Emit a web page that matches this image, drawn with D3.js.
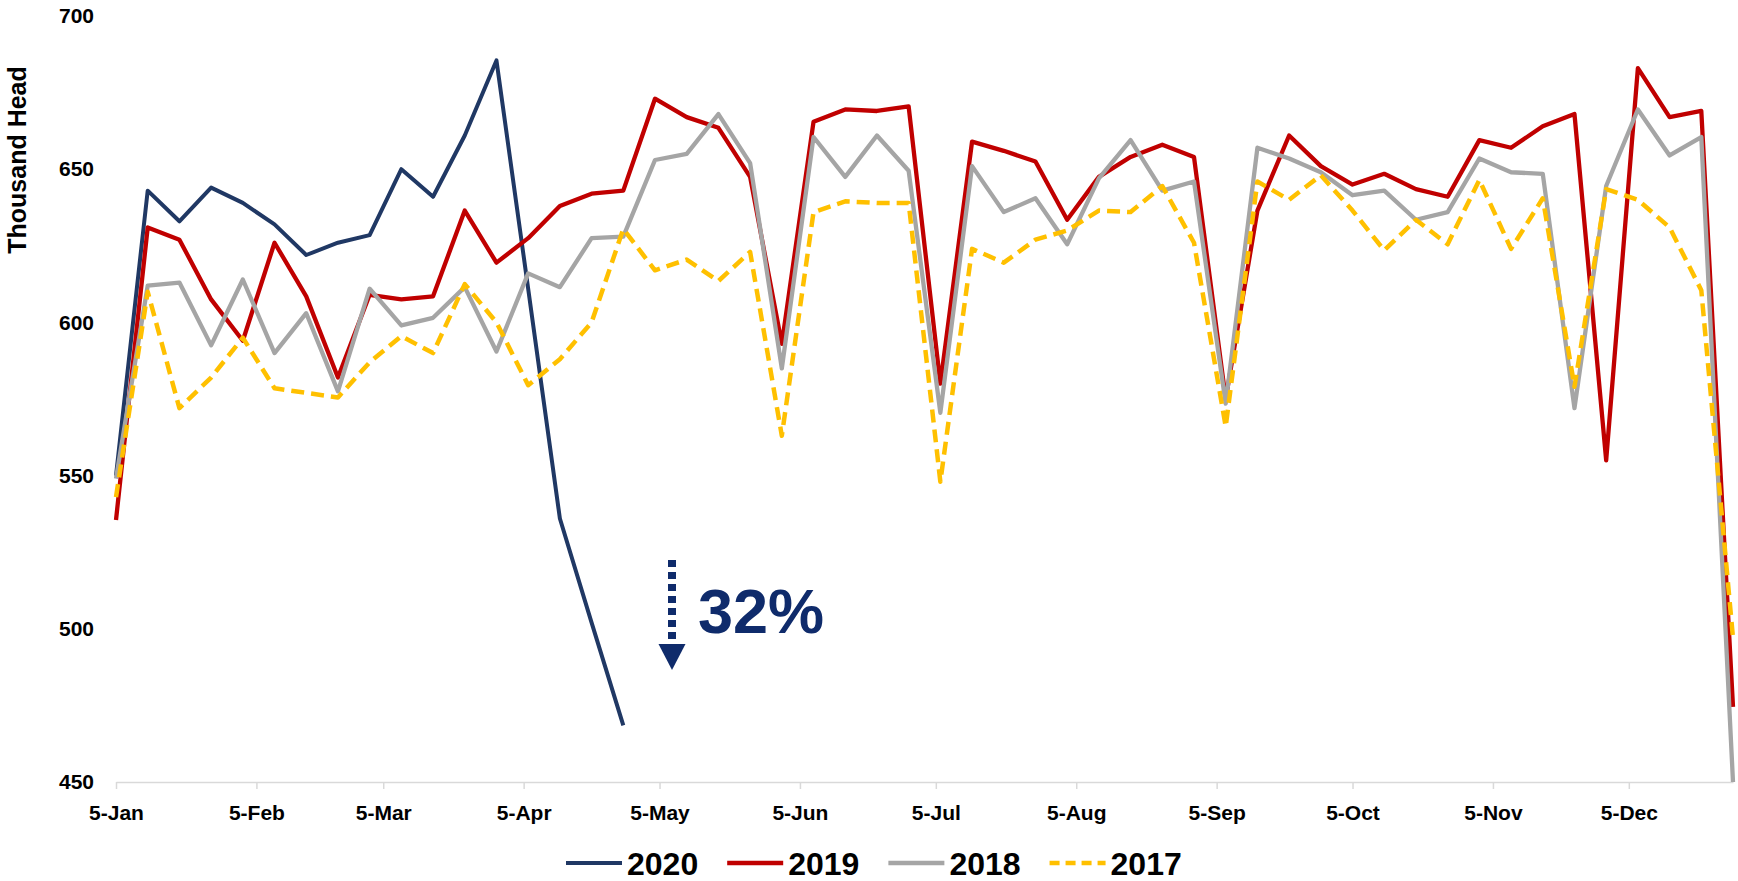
<!DOCTYPE html>
<html>
<head>
<meta charset="utf-8">
<script src="https://cdn.jsdelivr.net/npm/d3@7"></script>
<style>
  html, body { margin: 0; padding: 0; background: #fff; }
  svg text { font-family: "Liberation Sans", Arial, sans-serif; }
</style>
</head>
<body>
<svg id="chart" width="1738" height="881"></svg>
<script>
// weekly slaughter, thousand head (week ending dates from 5-Jan)
const weekCount = 52;
const firstWeek = new Date(2019, 0, 5);

const v2020 = [550, 643, 633, 644, 639, 632, 622, 626, 628.5, 650, 641, 661, 685.5, 611, 536, 502, 468.5];

const v2019 = [535.5, 631, 627, 607.5, 594, 626, 608.5, 582, 609, 607.5, 608.5, 636.5, 619.5, 627.5, 638, 642,
  643, 673, 667, 663.5, 647.5, 593, 665.5, 669.5, 669, 670.5, 580, 659, 656, 652.5, 633.5, 647.5,
  654, 658, 654, 575, 636.5, 661, 651, 645, 648.5, 643.5, 641, 659.5, 657, 664, 668, 555, 683, 667, 669, 474.5];

const v2018 = [549, 612, 613, 592.5, 614, 590, 603, 577.5, 611, 599, 601.5, 611.5, 590.5, 616, 611.5, 627.5,
  628, 653, 655, 668, 652, 585, 660.5, 647.5, 661, 649.5, 570.5, 651, 636, 640.5, 625.5, 647,
  659.5, 643, 646, 573.5, 657, 653.5, 649, 641.5, 643, 633.5, 636, 653.5, 649, 648.5, 572, 644.5, 669.5, 654.5, 660.5, 450];

const v2017 = [543, 610, 572, 582, 595, 578.5, 577, 575.5, 587, 595.5, 590, 612.5, 600, 579.5, 588, 600,
  630.5, 617, 620.5, 613.5, 623, 563, 636, 639.5, 639, 639, 548, 624, 619.5, 627, 630, 636.5,
  636, 644.5, 626, 566, 646, 640, 648, 636.5, 623.5, 633.5, 625.5, 646.5, 624, 640.5, 579, 643.5, 640, 631, 610.5, 497];

const tickLabels = ["5-Jan", "5-Feb", "5-Mar", "5-Apr", "5-May", "5-Jun", "5-Jul", "5-Aug", "5-Sep", "5-Oct", "5-Nov", "5-Dec"];
const yTicks = [450, 500, 550, 600, 650, 700];

const series = [
  { name: "2020", values: v2020, color: "#203864", width: 4, dash: null },
  { name: "2019", values: v2019, color: "#c00000", width: 4.3, dash: null },
  { name: "2018", values: v2018, color: "#a5a5a5", width: 4.3, dash: null },
  { name: "2017", values: v2017, color: "#ffc000", width: 4.5, dash: "13 7" }
];

const weeks = d3.range(weekCount).map(i => d3.timeDay.offset(firstWeek, 7 * i));
const tickDates = tickLabels.map((t, i) => new Date(2019, i, 5));

const svg = d3.select("#chart");
const margin = { top: 16, right: 5, bottom: 99, left: 116 },
      width = +svg.attr("width") - margin.left - margin.right,
      height = +svg.attr("height") - margin.top - margin.bottom;

const g = svg.append("g").attr("transform", `translate(${margin.left},${margin.top})`);

const x = d3.scaleTime()
  .domain([weeks[0], weeks[weeks.length - 1]])
  .range([0, width]);

const y = d3.scaleLinear()
  .domain([450, 700])
  .range([height, 0]);

// x axis
const xAxis = g.append("g")
  .attr("transform", `translate(0,${height})`)
  .call(d3.axisBottom(x).tickValues(tickDates).tickFormat((d, i) => tickLabels[i])
    .tickSize(7).tickSizeOuter(0).tickPadding(16));
xAxis.select(".domain").attr("stroke", "#d9d9d9").attr("stroke-width", 1.5);
xAxis.selectAll(".tick line").attr("stroke", "#d9d9d9").attr("stroke-width", 1.5);
xAxis.selectAll("text")
  .style("font-size", "21px")
  .style("font-weight", "bold")
  .attr("fill", "#000");

// y axis
const yAxis = g.append("g")
  .call(d3.axisLeft(y).tickValues(yTicks).tickSize(0).tickPadding(22));
yAxis.select(".domain").remove();
yAxis.selectAll("text")
  .style("font-size", "21px")
  .style("font-weight", "bold")
  .attr("fill", "#000");

svg.append("text")
  .attr("transform", "translate(26,160) rotate(-90)")
  .attr("text-anchor", "middle")
  .style("font-size", "25px")
  .style("font-weight", "bold")
  .text("Thousand Head");

// lines
const line = d3.line()
  .x((d, i) => x(weeks[i]))
  .y(d => y(d));

g.selectAll("path.series")
  .data(series)
  .enter().append("path")
    .attr("class", "series")
    .attr("d", d => line(d.values))
    .attr("fill", "none")
    .attr("stroke", d => d.color)
    .attr("stroke-width", d => d.width)
    .attr("stroke-dasharray", d => d.dash)
    .attr("stroke-linejoin", "round");

// annotation: 32% drop
const navy = "#0f2b6b";
svg.append("line")
  .attr("x1", 672).attr("x2", 672)
  .attr("y1", 560).attr("y2", 645)
  .attr("stroke", navy)
  .attr("stroke-width", 8)
  .attr("stroke-dasharray", "7 5");
svg.append("path")
  .attr("d", "M658.5,644 L685.5,644 L672,670 Z")
  .attr("fill", navy);
svg.append("text")
  .attr("x", 698)
  .attr("y", 633)
  .style("font-size", "63px")
  .style("font-weight", "bold")
  .attr("fill", navy)
  .text("32%");

// legend
const legend = svg.append("g").attr("transform", "translate(566,863)");
let lx = 0;
series.forEach(s => {
  legend.append("line")
    .attr("x1", lx).attr("x2", lx + 56)
    .attr("y1", 0).attr("y2", 0)
    .attr("stroke", s.color)
    .attr("stroke-width", s.width)
    .attr("stroke-dasharray", s.dash ? "10 6" : null);
  const t = legend.append("text")
    .attr("x", lx + 61)
    .attr("y", 12)
    .style("font-size", "32px")
    .style("font-weight", "bold")
    .attr("fill", "#000")
    .text(s.name);
  lx += 61 + t.node().getComputedTextLength() + 29;
});
</script>
</body>
</html>
